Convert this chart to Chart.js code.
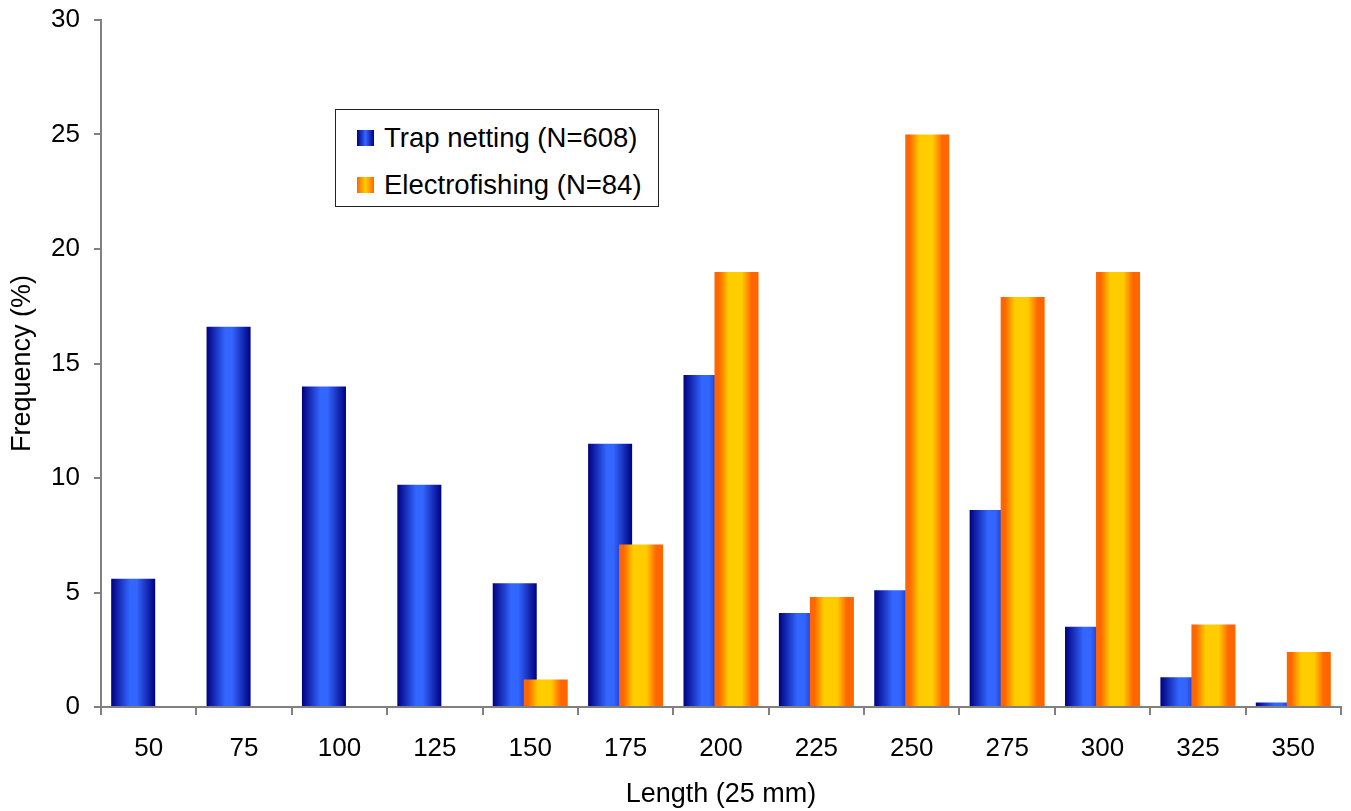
<!DOCTYPE html>
<html>
<head>
<meta charset="utf-8">
<script src="https://cdn.jsdelivr.net/npm/chart.js@4"></script>
<style>
    html, body { margin: 0; padding: 0; background: #fff; }
    #wrap { position: relative; width: 1351px; height: 811px; }
    #legend {
        position: absolute; left: 335px; top: 109px; width: 322px; height: 96px;
        border: 1px solid #222; background: #fff;
        font-family: "Liberation Sans", Arial, sans-serif; font-size: 27.5px; color: #000;
    }
    .item { position: absolute; left: 21px; height: 30px; line-height: 30px; white-space: nowrap; }
    .box { display: inline-block; width: 17px; height: 16px; vertical-align: middle; margin-right: 10px; position: relative; top: -2px; }
</style>
</head>
<body>
<div id="wrap">
    <canvas id="chart" width="1351" height="811"></canvas>
    <div id="legend">
        <div class="item" style="top:13px"><span class="box" style="background:linear-gradient(to right,#000080,#3366ff 50%,#000080)"></span>Trap netting (N=608)</div>
        <div class="item" style="top:60px"><span class="box" style="background:linear-gradient(to right,#ff6600,#ffcc00 50%,#ff6600)"></span>Electrofishing (N=84)</div>
    </div>
</div>
<script>
// Dados
const lengths = ['50', '75', '100', '125', '150', '175', '200', '225', '250', '275', '300', '325', '350'];
const trapNetting = [5.6, 16.6, 14.0, 9.7, 5.4, 11.5, 14.5, 4.1, 5.1, 8.6, 3.5, 1.3, 0.2];
const electrofishing = [0, 0, 0, 0, 1.2, 7.1, 19.0, 4.8, 25.0, 17.9, 19.0, 3.6, 2.4];
const yTicks = [0, 5, 10, 15, 20, 25, 30];

const FONT = '"Liberation Sans", Arial, sans-serif';
const CAT_PCT = 0.65;
const BAR_PCT = 1.42;

// Gradiente horizontal por barra (estilo Excel)
function barGradient(ctx, stops) {
    const chart = ctx.chart;
    const xs = chart.scales && chart.scales.x;
    if (!xs || ctx.dataIndex === undefined || !isFinite(xs.width) || xs.width <= 0) return stops[1][1];
    const catW = xs.width / lengths.length;
    const chunk = catW * CAT_PCT / 2;
    const center = xs.getPixelForValue(ctx.dataIndex) - catW * CAT_PCT / 2 + chunk * ctx.datasetIndex + chunk / 2;
    const w = chunk * BAR_PCT;
    if (!isFinite(center) || !isFinite(w)) return stops[1][1];
    const g = chart.ctx.createLinearGradient(center - w / 2, 0, center + w / 2, 0);
    stops.forEach(s => g.addColorStop(s[0], s[1]));
    return g;
}

const blueStops = [[0, '#000080'], [0.42, '#3366ff'], [0.58, '#3366ff'], [1, '#000080']];
const orangeStops = [[0, '#ff6600'], [0.1, '#ff6600'], [0.32, '#ffcc00'], [0.62, '#ffcc00'], [0.84, '#ff6600'], [1, '#ff6600']];

// Desenhar a série laranja por cima da azul (sobreposição)
const overlapOrder = {
    id: 'overlapOrder',
    beforeDatasetDraw(chart, args) {
        if (args.index === 1) return false;
    },
    afterDatasetsDraw(chart) {
        chart.getDatasetMeta(1).controller.draw();
    }
};

new Chart(document.getElementById('chart'), {
    type: 'bar',
    data: {
        labels: lengths,
        datasets: [
            {
                label: 'Trap netting (N=608)',
                data: trapNetting,
                backgroundColor: ctx => barGradient(ctx, blueStops),
                categoryPercentage: CAT_PCT,
                barPercentage: BAR_PCT
            },
            {
                label: 'Electrofishing (N=84)',
                data: electrofishing,
                backgroundColor: ctx => barGradient(ctx, orangeStops),
                categoryPercentage: CAT_PCT,
                barPercentage: BAR_PCT
            }
        ]
    },
    plugins: [overlapOrder],
    options: {
        responsive: false,
        animation: false,
        layout: { padding: { top: 20, right: 10, left: 0, bottom: 0 } },
        plugins: {
            legend: { display: false },
            tooltip: { enabled: false }
        },
        scales: {
            x: {
                grid: { offset: true, drawOnChartArea: false, color: '#808080', lineWidth: 2, tickLength: 8 },
                border: { color: '#808080', width: 2 },
                ticks: { color: '#000', font: { family: FONT, size: 26 }, padding: 18, maxRotation: 0 },
                title: { display: true, text: 'Length (25 mm)', color: '#000', font: { family: FONT, size: 27 }, padding: { top: 0, bottom: 0 } },
                afterFit(scale) { scale.height = 104; scale.paddingLeft = 0; scale.paddingRight = 0; }
            },
            y: {
                min: 0,
                max: 30,
                afterBuildTicks(scale) { scale.ticks = yTicks.map(v => ({ value: v })); },
                grid: { drawOnChartArea: false, color: '#808080', lineWidth: 2, tickLength: 7 },
                border: { color: '#808080', width: 2 },
                ticks: { color: '#000', font: { family: FONT, size: 26 }, padding: 14 },
                title: { display: true, text: 'Frequency (%)', color: '#000', font: { family: FONT, size: 27 }, padding: { top: 6, bottom: 0 } },
                afterFit(scale) { scale.width = 101; scale.paddingTop = 0; scale.paddingBottom = 0; }
            }
        }
    }
});
</script>
</body>
</html>
